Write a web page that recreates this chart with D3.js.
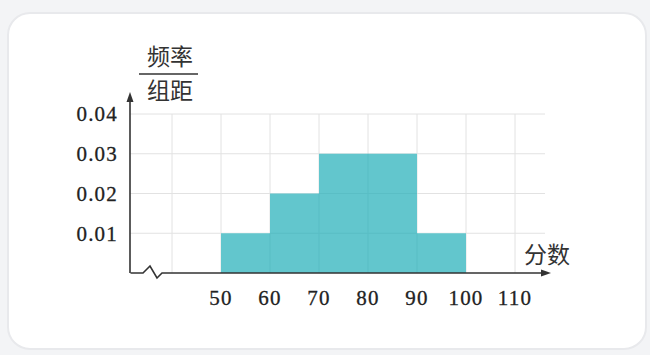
<!DOCTYPE html>
<html><head><meta charset="utf-8">
<script src="https://cdn.jsdelivr.net/npm/d3@7"></script>
<style>html,body{margin:0;padding:0;background:#f3f4f6;}svg{display:block;}</style>
</head><body>
<svg id="c" width="650" height="355"></svg>
<script>
const binStarts = [50, 60, 70, 80, 90];
const binWidth = 10;
const freqDensity = [0.01, 0.02, 0.03, 0.03, 0.01];
const xTicks = [50, 60, 70, 80, 90, 100, 110];
const xGrid = [40, 50, 60, 70, 80, 90, 100, 110];
const yTicks = [0.01, 0.02, 0.03, 0.04];
const yTickLabels = ["0.01", "0.02", "0.03", "0.04"];

const svg = d3.select("#c");
svg.append("rect").attr("x", 8).attr("y", 13).attr("width", 638).attr("height", 336)
  .attr("rx", 22).attr("fill", "#ffffff").attr("stroke", "#e8e9ec").attr("stroke-width", 2);

const x = d3.scaleLinear().domain([40, 110]).range([172, 515]);
const y = d3.scaleLinear().domain([0, 0.04]).range([273, 114]);
const axisX = 130, axisY = 273;

const grid = svg.append("g").attr("stroke", "#e2e2e2").attr("stroke-width", 1);
grid.selectAll("line.v").data(xGrid).join("line")
  .attr("x1", d => x(d)).attr("x2", d => x(d)).attr("y1", y(0.04)).attr("y2", axisY);
grid.selectAll("line.h").data(yTicks).join("line")
  .attr("x1", axisX).attr("x2", x(110) + 30).attr("y1", d => y(d)).attr("y2", d => y(d));

svg.append("g").selectAll("rect").data(binStarts).join("rect")
  .attr("x", d => x(d)).attr("width", d => x(d + binWidth) - x(d))
  .attr("y", (d, i) => y(freqDensity[i])).attr("height", (d, i) => y(0) - y(freqDensity[i]))
  .attr("fill", "#62c6cd");

// faint grid lines visible through bars
const g2 = svg.append("g").attr("stroke", "#55b9c0").attr("stroke-width", 1).attr("opacity", 0.6);
binStarts.forEach((d, i) => {
  g2.selectAll(null).data(yTicks.filter(t => t < freqDensity[i])).join("line")
    .attr("x1", x(d)).attr("x2", x(d + binWidth)).attr("y1", t => y(t)).attr("y2", t => y(t));
  if (i > 0) {
    const h = Math.min(freqDensity[i], freqDensity[i - 1]);
    g2.append("line").attr("x1", x(d)).attr("x2", x(d)).attr("y1", y(h)).attr("y2", axisY);
  }
});

// axes
const ax = svg.append("g").attr("stroke", "#333").attr("stroke-width", 1.6).attr("fill", "none");
ax.append("line").attr("x1", axisX).attr("x2", axisX).attr("y1", axisY).attr("y2", 98);
ax.append("path").attr("d", `M${axisX + 0.5},${axisY} L143,${axisY} L150,${axisY - 7} L157,${axisY + 5} L162,${axisY} L545,${axisY}`);
svg.append("path").attr("d", `M${axisX},92 L${axisX - 3.5},102 L${axisX + 3.5},102 Z`).attr("fill", "#333");
svg.append("path").attr("d", `M551,${axisY} L541,${axisY - 3.5} L541,${axisY + 3.5} Z`).attr("fill", "#333");

const serif = "'Liberation Serif', 'DejaVu Serif', serif";
svg.append("g").selectAll("text").data(yTicks).join("text")
  .attr("x", 118).attr("y", d => y(d)).attr("dy", "0.35em").attr("text-anchor", "end")
  .attr("font-family", serif).attr("font-size", 21).attr("letter-spacing", 1.2)
  .attr("fill", "#222").attr("stroke", "#222").attr("stroke-width", 0.3)
  .text((d, i) => yTickLabels[i]);
svg.append("g").selectAll("text").data(xTicks).join("text")
  .attr("x", d => x(d)).attr("y", 298).attr("dy", "0.35em").attr("text-anchor", "middle")
  .attr("font-family", serif).attr("font-size", 21).attr("letter-spacing", 1.2)
  .attr("fill", "#222").attr("stroke", "#222").attr("stroke-width", 0.3)
  .text(d => d);

const cjk = "'Noto Sans CJK SC', sans-serif";
svg.append("text").attr("x", 547).attr("y", 255).attr("dy", "0.35em").attr("text-anchor", "middle")
  .attr("font-family", cjk).attr("font-size", 23).attr("fill", "#333").text("分数");
svg.append("text").attr("x", 170).attr("y", 57).attr("dy", "0.35em").attr("text-anchor", "middle")
  .attr("font-family", cjk).attr("font-size", 23).attr("fill", "#333").text("频率");
svg.append("line").attr("x1", 139).attr("x2", 198).attr("y1", 74).attr("y2", 74)
  .attr("stroke", "#333").attr("stroke-width", 1.5);
svg.append("text").attr("x", 170).attr("y", 91).attr("dy", "0.35em").attr("text-anchor", "middle")
  .attr("font-family", cjk).attr("font-size", 23).attr("fill", "#333").text("组距");
</script>
</body></html>
